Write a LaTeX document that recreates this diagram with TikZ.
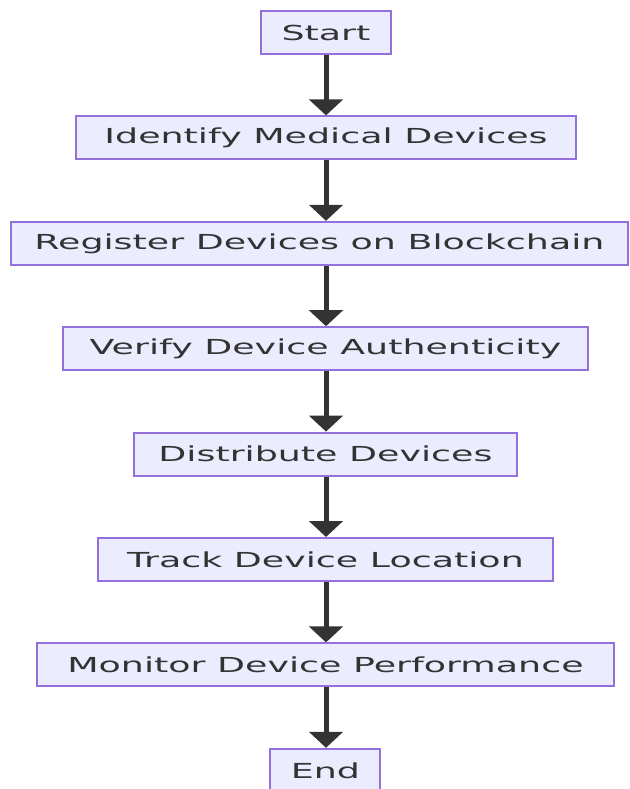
\documentclass[tikz,border=0pt]{standalone}
\usepackage{fontspec}
\setmainfont{DejaVu Sans}
\usetikzlibrary{positioning,arrows.meta}
\definecolor{boxfill}{HTML}{ECECFF}
\definecolor{boxline}{HTML}{9370DB}
\definecolor{inkgrey}{HTML}{333333}
\newcommand{\wtext}[1]{\scalebox{1.76}[1]{#1}}
\tikzset{
  stepbox/.style = {rectangle, draw=boxline, fill=boxfill, line width=1.5pt,
    text=inkgrey, minimum height=32.25pt, inner sep=0pt,
    font=\fontsize{15.5}{18}\selectfont},% one step of the flow
  flow/.style = {draw=inkgrey, line width=3.75pt,
    -{Triangle[width=25pt,length=12pt]}}% arrow from step to step
}

\begin{document}
\begin{tikzpicture}[x=0.75pt, y=-0.75pt, node distance=45.3pt]
\useasboundingbox (0,0) rectangle (630,789);
\node [stepbox, minimum width=97.5pt] (start) at (326,32.5) {\wtext{Start}};
\node [stepbox, minimum width=375pt, below=of start] (ident)
    {\wtext{Identify Medical Devices}};
\node [stepbox, minimum width=462.75pt, below=of ident, xshift=-4.9pt] (reg)
    {\wtext{Register Devices on Blockchain}};
\node [stepbox, minimum width=393.75pt, below=of reg, xshift=4.5pt] (verify)
    {\wtext{Verify Device Authenticity}};
\node [stepbox, minimum width=287.25pt, below=of verify] (distr)
    {\wtext{Distribute Devices}};
\node [stepbox, minimum width=341.25pt, below=of distr] (track)
    {\wtext{Track Device Location}};
\node [stepbox, minimum width=432.75pt, below=of track] (monitor)
    {\wtext{Monitor Device Performance}};
\node [stepbox, minimum width=82.5pt, below=of monitor] (end)
    {\wtext{End}};

\foreach \a/\b in {start/ident, ident/reg, reg/verify, verify/distr,
    distr/track, track/monitor, monitor/end}
  \draw [flow] (\a.south -| ident.south) -- (\b.north -| ident.south);
\end{tikzpicture}
\end{document}
